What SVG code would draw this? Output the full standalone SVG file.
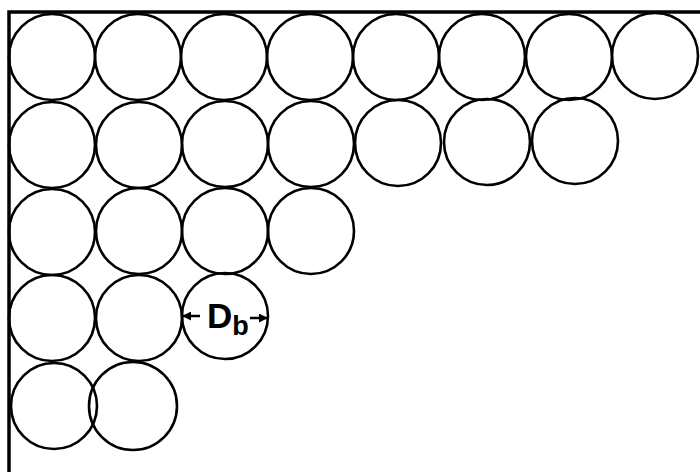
<svg xmlns="http://www.w3.org/2000/svg" width="700" height="472" viewBox="0 0 700 472">
<style>
.c{fill:none;stroke:#000;stroke-width:2.6}
.w{fill:none;stroke:#000;stroke-width:3.5}
.a{fill:none;stroke:#000;stroke-width:2.5}
.t{font-family:"Liberation Sans",Arial,sans-serif;font-weight:bold;fill:#000}
</style>
<defs>
<marker id="ah" viewBox="0 0 10 10" refX="9" refY="5" markerWidth="9" markerHeight="9" orient="auto" markerUnits="userSpaceOnUse">
<path d="M0,0 L10,5 L0,10 z" fill="#000"/>
</marker>
</defs>
<rect width="700" height="472" fill="#fff"/>
<g id="walls">
<path class="w" d="M9,472 L9,12 L700,12"/>
</g>
<g id="row1">
<circle id="c1_1" class="c" cx="52" cy="57" r="43"/>
<circle id="c1_2" class="c" cx="138" cy="57" r="43"/>
<circle id="c1_3" class="c" cx="224" cy="57" r="43"/>
<circle id="c1_4" class="c" cx="310" cy="57" r="43"/>
<circle id="c1_5" class="c" cx="396" cy="57" r="43"/>
<circle id="c1_6" class="c" cx="482" cy="57" r="43"/>
<circle id="c1_7" class="c" cx="569" cy="57" r="43"/>
<circle id="c1_8" class="c" cx="655" cy="56" r="43"/>
</g>
<g id="row2">
<circle id="c2_1" class="c" cx="52" cy="145" r="43"/>
<circle id="c2_2" class="c" cx="139" cy="145" r="43"/>
<circle id="c2_3" class="c" cx="225" cy="144" r="43"/>
<circle id="c2_4" class="c" cx="311" cy="144" r="43"/>
<circle id="c2_5" class="c" cx="398" cy="143" r="43"/>
<circle id="c2_6" class="c" cx="487" cy="142" r="43"/>
<circle id="c2_7" class="c" cx="575" cy="141" r="43"/>
</g>
<g id="row3">
<circle id="c3_1" class="c" cx="52" cy="232" r="43"/>
<circle id="c3_2" class="c" cx="139" cy="231" r="43"/>
<circle id="c3_3" class="c" cx="225" cy="231" r="43"/>
<circle id="c3_4" class="c" cx="311" cy="231" r="43"/>
</g>
<g id="row4">
<circle id="c4_1" class="c" cx="52" cy="318" r="43"/>
<circle id="c4_2" class="c" cx="139" cy="318" r="43"/>
<circle id="c4_3" class="c" cx="225" cy="316" r="43"/>
</g>
<g id="row5">
<circle id="c5_1" class="c" cx="54" cy="406" r="43"/>
<circle id="c5_2" class="c" cx="133" cy="406" r="44"/>
</g>
<g id="connectors">
<line class="a" x1="200" y1="316" x2="183" y2="316" marker-end="url(#ah)"/>
<line class="a" x1="250" y1="318" x2="267" y2="318" marker-end="url(#ah)"/>
</g>
<g id="label">
<text class="t" x="207" y="328" font-size="35">D<tspan font-size="27" dy="7">b</tspan></text>
</g>
</svg>
